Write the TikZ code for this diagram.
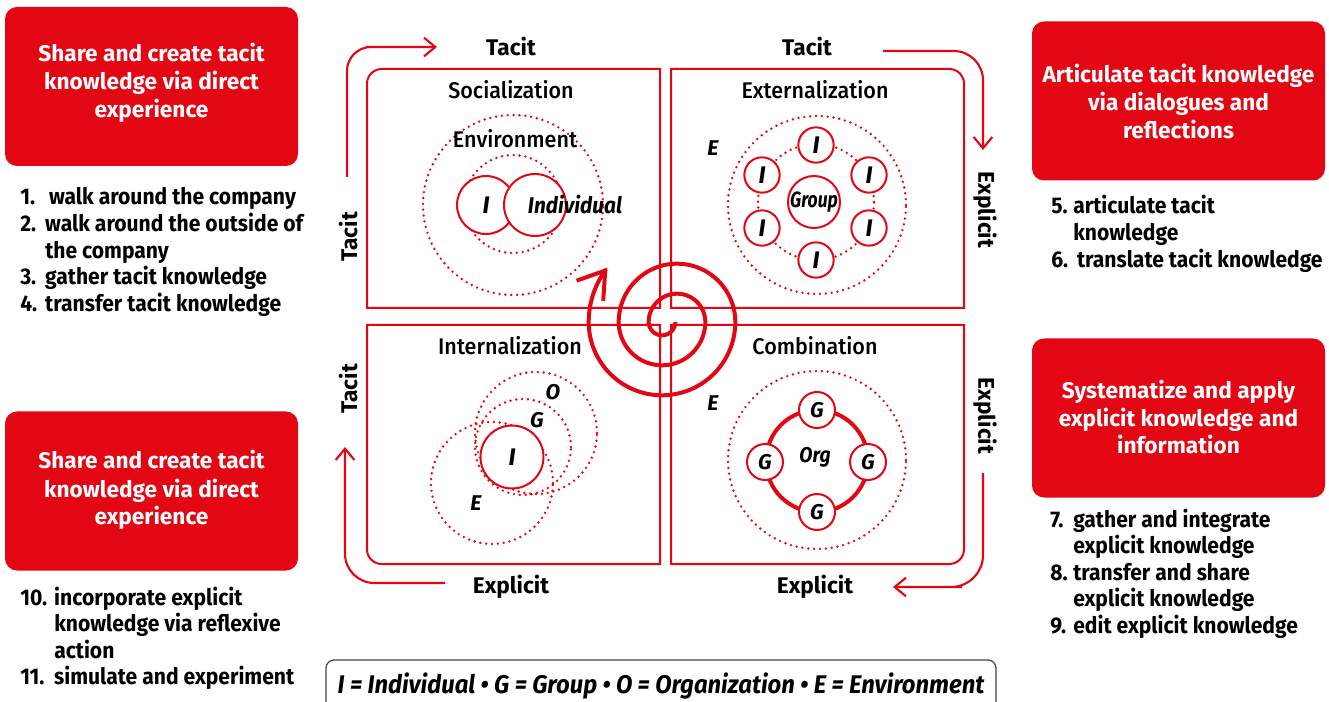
\documentclass[tikz,border=0pt]{standalone}
\usepackage{fontspec}
\setmainfont{Fira Sans}
\newfontfamily\listfont{Fira Sans}[FakeStretch=0.93]
\newfontfamily\medfont{Fira Sans Medium}[FakeStretch=0.95]
\usetikzlibrary{arrows.meta}
\definecolor{kred}{RGB}{227,6,19}
\definecolor{kgray}{RGB}{70,70,70}
\newcommand\nb[2]{\makebox[#1][l]{#2}}
\begin{document}
\begin{tikzpicture}[x=0.75pt,y=-0.75pt,
  redbox/.style={fill=kred, rounded corners=9pt, inner sep=0pt, minimum width=219.75pt, minimum height=119.25pt},
  boxtext/.style={text=white, font=\bfseries\fontsize{17}{21}\selectfont, inner sep=0pt, anchor=base},
  listtext/.style={font=\listfont\bfseries\fontsize{17}{19.9}\selectfont, inner sep=0pt, anchor=base west},
  quad/.style={draw=kred, line width=1.5pt},
  qtitle/.style={font=\medfont\fontsize{17}{20}\selectfont, inner sep=0pt, anchor=base},
  axislab/.style={font=\bfseries\fontsize{17}{20}\selectfont, inner sep=0pt},
  oarrow/.style={draw=kred, line width=1.6pt, -{Straight Barb[length=8.5pt,width=14pt]}},
  dotc/.style={circle, draw=kred, line width=2pt, dash pattern=on 0pt off 4.4pt, line cap=round, inner sep=0pt},
  solidc/.style={circle, draw=kred, line width=1.5pt, fill=white, inner sep=0pt, font=\bfseries\itshape\fontsize{18}{20}\selectfont},
  smallc/.style={solidc, minimum size=26.5pt},
  gc/.style={solidc, minimum size=27pt, font=\bfseries\itshape\fontsize{16}{18}\selectfont},
  itlab/.style={inner sep=0pt, font=\bfseries\itshape\fontsize{16}{18}\selectfont},
  spiral/.style={draw=kred, line width=3pt, -{Straight Barb[length=19pt,width=25pt]}}
]
\useasboundingbox (0,0) rectangle (1329,702);
\clip (0,0) rectangle (1329,702);

% red boxes
\node[redbox] (bTL) at (151.5,86.5) {};
\node[redbox] (bBL) at (151.5,491) {};
\node[redbox] (bTR) at (1178.5,101) {};
\node[redbox] (bBR) at (1178.5,418) {};
\node[boxtext] (tTL) at (151.5,62) {\begin{tabular}[t]{@{}c@{}}Share and create tacit\\knowledge via direct\\experience\end{tabular}};
\node[boxtext] (tBL) at (151.5,469) {\begin{tabular}[t]{@{}c@{}}Share and create tacit\\knowledge via direct\\experience\end{tabular}};
\node[boxtext] (tTR) at (1178.5,83) {\begin{tabular}[t]{@{}c@{}}Articulate tacit knowledge\\via dialogues and\\reflections\end{tabular}};
\node[boxtext] (tBR) at (1178.5,398) {\begin{tabular}[t]{@{}c@{}}Systematize and apply\\explicit knowledge and\\information\end{tabular}};

% lists
\node[listtext] (lTL) at (20,205) {\begin{tabular}[t]{@{}l@{}l@{}}\nb{18.75pt}{1.}&\,walk around the company\\\nb{18.75pt}{2.}&walk around the outside of\\&the company\\\nb{18.75pt}{3.}&gather tacit knowledge\\\nb{18.75pt}{4.}&transfer tacit knowledge\end{tabular}};
\node[listtext] (lBL) at (20,605) {\begin{tabular}[t]{@{}l@{}l@{}}\nb{25.5pt}{10.}&incorporate explicit\\&knowledge via reflexive\\&action\\\nb{25.5pt}{11.}&simulate and experiment\end{tabular}};
\node[listtext] (lTR) at (1051,214) {\begin{tabular}[t]{@{}l@{}l@{}}\nb{16.5pt}{5.}&articulate tacit\\&knowledge\\\nb{16.5pt}{6.}&\,translate tacit knowledge\end{tabular}};
\node[listtext] (lBR) at (1050,527) {\begin{tabular}[t]{@{}l@{}l@{}}\nb{17.25pt}{7.}&gather and integrate\\&explicit knowledge\\\nb{17.25pt}{8.}&transfer and share\\&explicit knowledge\\\nb{17.25pt}{9.}&edit explicit knowledge\end{tabular}};

% quadrant frames
\draw[quad] (660,308) -- (367,308) -- (367,150) [rounded corners=11pt] -- (367,69) -- (500,69) [sharp corners] -- (660,69) -- cycle;
\draw[quad] (671,308) -- (671,69) -- (850,69) [rounded corners=11pt] -- (964,69) -- (964,200) [sharp corners] -- (964,308) -- cycle;
\draw[quad] (660,325) -- (367,325) -- (367,450) [rounded corners=11pt] -- (367,564) -- (500,564) [sharp corners] -- (660,564) -- cycle;
\draw[quad] (671,325) -- (964,325) -- (964,450) [rounded corners=11pt] -- (964,564) -- (850,564) [sharp corners] -- (671,564) -- cycle;

% titles
\node[qtitle] (soc) at (511,99) {Socialization};
\node[qtitle] (ext) at (815,99) {Externalization};
\node[qtitle] (int) at (510,355) {Internalization};
\node[qtitle] (com) at (815,355) {Combination};

% axis labels
\node[axislab, anchor=base] (ax1) at (511,56) {Tacit};
\node[axislab, anchor=base] (ax2) at (807,56) {Tacit};
\node[axislab, anchor=base] (ax3) at (511,593) {Explicit};
\node[axislab, anchor=base] (ax4) at (815,593) {Explicit};
\node[axislab, rotate=90] (ax5) at (348,237) {Tacit};
\node[axislab, rotate=90] (ax6) at (348,389) {Tacit};
\node[axislab, rotate=-90] (ax7) at (985,210) {Explicit};
\node[axislab, rotate=-90] (ax8) at (985,416) {Explicit};

% outer arrows
\draw[oarrow] (347,177) -- (347,120) [rounded corners=18pt] -- (347,47) -- (390,47) [sharp corners] -- (437,47);
\draw[oarrow] (883,51) -- (930,51) [rounded corners=22pt] -- (983,51) -- (983,110) [sharp corners] -- (983,150);
\draw[oarrow] (983,473) -- (983,530) [rounded corners=24pt] -- (983,587) -- (930,587) [sharp corners] -- (893,587);
\draw[oarrow] (445,583) -- (400,583) [rounded corners=22pt] -- (345,583) -- (345,500) [sharp corners] -- (345,447);

% Socialization
\node[dotc, minimum size=135pt] (sE) at (513,205) {};
\node[dotc, minimum size=73.5pt] (sIn) at (513,204) {};
\node[inner sep=0pt, font=\medfont\fontsize{17}{20}\selectfont] (sEnv) at (515,139) {Environment};
\node[solidc, minimum size=43.5pt] (sI) at (486,205) {I};
\node[solidc, minimum size=46.5pt] (sInd) at (535,205) {};
\node[inner sep=0pt, font=\bfseries\itshape\fontsize{17}{20}\selectfont] (sIndT) at (575,205) {\scalebox{0.92}[1]{Individual}};

% Externalization
\node[dotc, minimum size=133.5pt] (xE) at (817,205) {};
\node[dotc, minimum size=87pt] (xR) at (816,202) {};
\node[solidc, minimum size=39pt, font=\bfseries\itshape\fontsize{16.5}{18}\selectfont] (xG) at (814,202) {\scalebox{0.8}[1]{Group}};
\node[smallc] (xI1) at (816,145) {I};
\node[smallc] (xI2) at (869,175) {I};
\node[smallc] (xI3) at (869,228) {I};
\node[smallc] (xI4) at (816,260) {I};
\node[smallc] (xI5) at (762,228) {I};
\node[smallc] (xI6) at (762,175) {I};
\node[itlab] (xEl) at (713,148) {E};

% Internalization
\node[dotc, minimum size=91.5pt] (iE) at (492,483) {};
\node[dotc, minimum size=72pt] (iG) at (523,447) {};
\node[dotc, minimum size=91.5pt] (iO) at (536,433) {};
\node[solidc, minimum size=47.25pt] (iI) at (512,457) {I};
\node[itlab] (iEl) at (476,503) {E};
\node[itlab] (iGl) at (537,420) {G};
\node[itlab] (iOl) at (553,392) {O};

% Combination
\node[dotc, minimum size=133.5pt] (cE) at (817,460) {};
\node[circle, draw=kred, line width=3pt, minimum size=76.5pt, inner sep=0pt] (cRing) at (817,461) {};
\node[gc] (cG1) at (817,410) {G};
\node[gc] (cG2) at (765,462) {G};
\node[gc] (cG3) at (868,462) {G};
\node[gc] (cG4) at (817,512) {G};
\node[itlab] (cOrg) at (815,457) {\scalebox{0.9}[1]{Org}};
\node[itlab] (cEl) at (713,403) {E};

% spiral
\draw[spiral] plot[domain=0:180, samples=40] ({662+13.3*cos(\x)}, {322+13.3*sin(\x)})
 -- plot[domain=180:360, samples=60] ({677+28.3*cos(\x)}, {322+28.3*sin(\x)})
 -- plot[domain=0:180, samples=60] ({662+43.3*cos(\x)}, {322+43.3*sin(\x)})
 -- plot[domain=180:360, samples=80] ({677+58.3*cos(\x)}, {322+58.3*sin(\x)})
 -- plot[domain=0:180, samples=80] ({662+73.3*cos(\x)}, {322+73.3*sin(\x)})
 -- plot[domain=180:218, samples=25] ({677+88.3*cos(\x)}, {322+88.3*sin(\x)});

% legend
\node[draw=kgray, line width=0.9pt, rounded corners=6pt, minimum width=502.5pt, minimum height=45pt, inner sep=0pt] (leg) at (661,690) {};
\node[inner sep=0pt, anchor=base, font=\bfseries\itshape\fontsize{20}{22}\selectfont] (legT) at (661,693) {\resizebox{485pt}{15.5pt}{I = Individual • G = Group • O = Organization • E = Environment}};
\end{tikzpicture}
\end{document}
